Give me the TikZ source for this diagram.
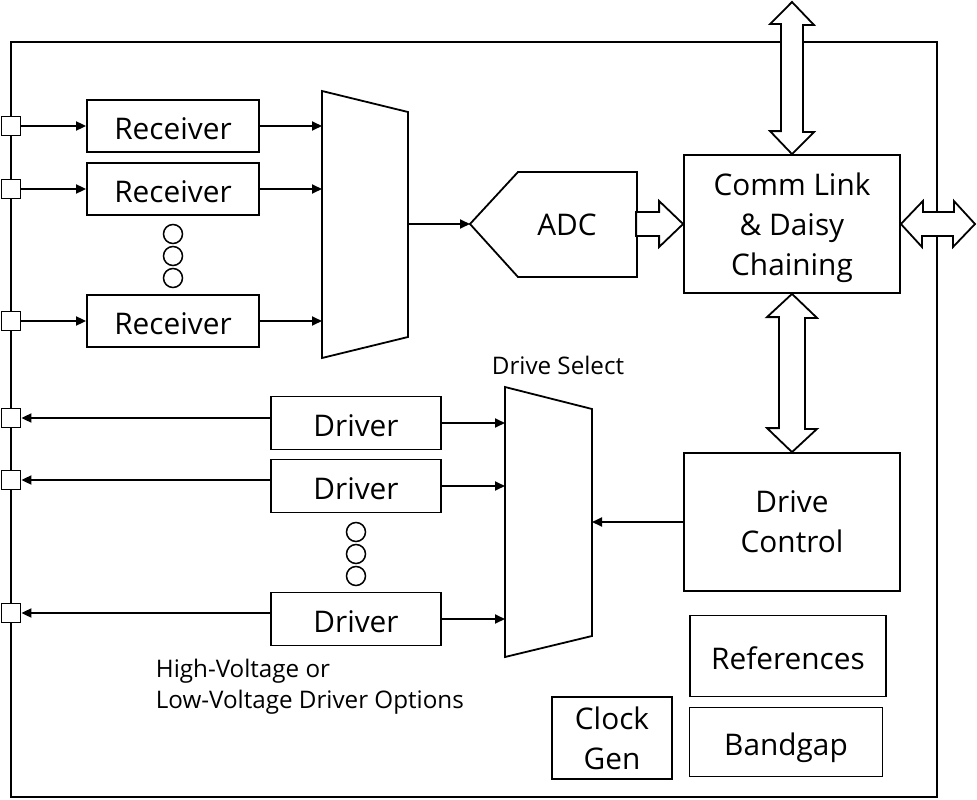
\documentclass[tikz,border=0pt]{standalone}
\usepackage{fontspec}
\setmainfont{Open Sans}
\usetikzlibrary{arrows.meta}

\begin{document}
\begin{tikzpicture}[
	x=1pt, y=-1pt, line width=1.8pt,
	>={Triangle[length=10pt,width=9pt]},
	padnode/.style={rectangle,draw,fill=white,minimum size=19pt,inner sep=0pt},
	rxnode/.style={rectangle,draw,minimum width=172pt,minimum height=52pt,text height=26pt,text depth=0pt,font=\fontsize{29.8}{40}\selectfont},
	drvnode/.style={rectangle,draw,minimum width=170pt,minimum height=53pt,text height=26pt,text depth=0pt,font=\fontsize{29.8}{40}\selectfont},
	blocknode/.style={rectangle,draw,font=\fontsize{29.8}{40}\selectfont},
	textnode/.style={font=\fontsize{29.8}{40}\selectfont},
	dotnode/.style={circle,draw,line width=1.5pt,minimum size=19pt,inner sep=0pt},
	labelnode/.style={font=\fontsize{24.2}{31}\selectfont,inner sep=0pt},
	busarrow/.style={draw,fill=white,line join=miter}
]
\useasboundingbox (0,0) rectangle (977,800);

% Chip
\draw (11,42) rectangle (937,797);

% Pins
\node[padnode] (p1) at (11,126) {};
\node[padnode] (p2) at (11,189) {};
\node[padnode] (p3) at (11,321) {};
\node[padnode] (p4) at (11,418) {};
\node[padnode] (p5) at (11,480) {};
\node[padnode] (p6) at (11,613) {};

% Empfang
\node[rxnode] (rx1) at (173,126) {Receiver};
\node[rxnode] (rx2) at (173,189) {Receiver};
\node[rxnode] (rx3) at (173,321) {Receiver};
\node[dotnode] (rd1) at (173,234) {};
\node[dotnode] (rd2) at (173,256) {};
\node[dotnode] (rd3) at (173,278) {};

\draw (322,91) -- (408,112) -- (408,337) -- (322,358) -- cycle;
\coordinate (rmuxin) at (322,224);
\coordinate (rmuxout) at (408,224);

\coordinate (adcin) at (470,224);
\draw (adcin) -- (518,172) -- (637,172) -- (637,277) -- (518,277) -- cycle;
\node[textnode] (adc) at (567,225) {ADC};

% Steuerung
\node[blocknode,align=center,minimum width=216pt,minimum height=138pt] (comm) at (792,224) {\rule{0pt}{31pt}Comm Link\\\& Daisy\\Chaining};
\node[blocknode,align=center,minimum width=216pt,minimum height=138pt] (ctrl) at (792,522) {Drive\\Control};
\node[blocknode,minimum width=196pt,minimum height=81pt,text height=26pt,text depth=0pt] (ref) at (788,656) {References};
\node[blocknode,minimum width=193pt,minimum height=69pt,text height=26pt,text depth=0pt] (bg) at (786,742) {Bandgap};
\node[blocknode,align=center,minimum width=120pt,minimum height=82pt] (clk) at (612,738) {Clock\\Gen};

% Treiber
\node[drvnode] (dv1) at (356,423) {Driver};
\node[drvnode] (dv2) at (356,486) {Driver};
\node[drvnode] (dv3) at (356,619) {Driver};
\node[dotnode] (dd1) at (356,532) {};
\node[dotnode] (dd2) at (356,554) {};
\node[dotnode] (dd3) at (356,576) {};

\draw (505,387) -- (592,409) -- (592,636) -- (505,657) -- cycle;
\coordinate (dmuxin) at (505,500);
\coordinate (dmuxctl) at (592,522);

\node[labelnode] (dsel) at (558,365) {Drive Select};
\node[labelnode,anchor=west,align=left] (opts) at (155,687) {High-Voltage or\\Low-Voltage Driver Options};

% Verbindungen
\draw[->] (p1) -- (rx1);
\draw[->] (p2) -- (rx2);
\draw[->] (p3) -- (rx3);
\draw[->] (rx1) -- (rx1 -| rmuxin);
\draw[->] (rx2) -- (rx2 -| rmuxin);
\draw[->] (rx3) -- (rx3 -| rmuxin);
\draw[->] (rmuxout) -- (adcin);

\draw[->] (dv1.west |- p4) -- (p4);
\draw[->] (dv2.west |- p5) -- (p5);
\draw[->] (dv3.west |- p6) -- (p6);
\draw[->] (dv1) -- (dv1 -| dmuxin);
\draw[->] (dv2) -- (dv2 -| dmuxin);
\draw[->] (dv3) -- (dv3 -| dmuxin);
\draw[->] (ctrl) -- (ctrl -| dmuxctl);

% Busse
\coordinate (bustop) at (792,2);
\coordinate (busright) at (975,224);
\draw[busarrow] (comm.west) -- ++(-24,-23) -- ++(0,11) -- ++(-23,0) -- ++(0,24) -- ++(23,0) -- ++(0,11) -- cycle;
\draw[busarrow] (bustop) -- ++(22,23) -- ++(-11,0) -- ++(0,107) -- ++(11,0) -- (comm.north) -- ++(-22,-23) -- ++(11,0) -- ++(0,-107) -- ++(-11,0) -- cycle;
\draw[busarrow] (comm.east) -- ++(22,-23) -- ++(0,11) -- ++(31,0) -- ++(0,-11) -- (busright) -- ++(-22,23) -- ++(0,-11) -- ++(-31,0) -- ++(0,11) -- cycle;
\draw[busarrow] (comm.south) -- ++(25,24) -- ++(-12,0) -- ++(0,111) -- ++(12,0) -- (ctrl.north) -- ++(-25,-24) -- ++(12,0) -- ++(0,-111) -- ++(-12,0) -- cycle;

\end{tikzpicture}
\end{document}
